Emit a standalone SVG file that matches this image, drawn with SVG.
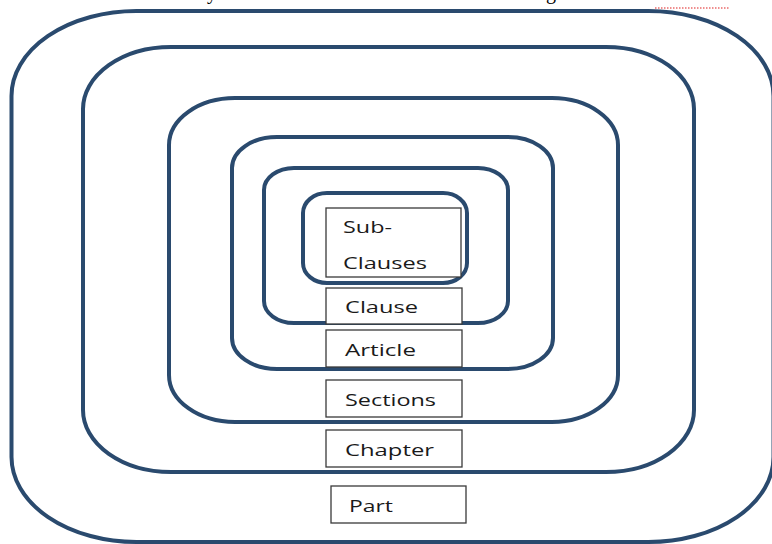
<svg xmlns="http://www.w3.org/2000/svg" width="772" height="544" viewBox="0 0 772 544">
<style>
.ring{fill:none;stroke:#2A4A6E;stroke-width:4}
.box{fill:#fff;stroke:#3a3a3a;stroke-width:1.3}
.lbl{font-family:"Open Sans","DejaVu Sans",sans-serif;font-size:17px;fill:#1a1a1a}
.frag{font-family:"Liberation Serif",serif;font-size:20px;fill:#000}
</style>
<rect width="772" height="544" fill="#fff"/>
<g id="top-fragments">
<text class="frag" x="207" y="-1">y</text>
<text class="frag" x="546" y="-1">g</text>
<line x1="655" y1="8" x2="730" y2="8" stroke="#e02020" stroke-width="1.2" stroke-dasharray="1.5,1.5"/>
</g>
<g id="ring-part"><rect class="ring" x="11.5" y="11" width="762" height="531" rx="125" ry="85"/></g>
<g id="ring-chapter"><rect class="ring" x="83" y="47" width="611" height="425" rx="88" ry="62"/></g>
<g id="ring-sections"><rect class="ring" x="169" y="98" width="449" height="324" rx="66" ry="47"/></g>
<g id="ring-article"><rect class="ring" x="232" y="137" width="321" height="232" rx="45" ry="31"/></g>
<g id="ring-clause"><rect class="ring" x="264" y="168" width="244" height="155" rx="30" ry="22"/></g>
<g id="ring-subclauses"><rect class="ring" x="303" y="193" width="164" height="90" rx="24" ry="20"/></g>
<g id="box-subclauses">
<rect class="box" x="326" y="208" width="135" height="69"/>
<text class="lbl" x="343" y="233" textLength="49" lengthAdjust="spacingAndGlyphs">Sub-</text>
<text class="lbl" x="343" y="269" textLength="84" lengthAdjust="spacingAndGlyphs">Clauses</text>
</g>
<g id="box-clause">
<rect class="box" x="326" y="288" width="136" height="36"/>
<text class="lbl" x="345" y="313" textLength="73" lengthAdjust="spacingAndGlyphs">Clause</text>
</g>
<g id="box-article">
<rect class="box" x="326" y="330" width="136" height="37"/>
<text class="lbl" x="345" y="356" textLength="71" lengthAdjust="spacingAndGlyphs">Article</text>
</g>
<g id="box-sections">
<rect class="box" x="326" y="380" width="136" height="37"/>
<text class="lbl" x="345" y="406" textLength="91" lengthAdjust="spacingAndGlyphs">Sections</text>
</g>
<g id="box-chapter">
<rect class="box" x="326" y="430" width="136" height="37"/>
<text class="lbl" x="345" y="456" textLength="89" lengthAdjust="spacingAndGlyphs">Chapter</text>
</g>
<g id="box-part">
<rect class="box" x="331" y="486" width="135" height="37"/>
<text class="lbl" x="349" y="512" textLength="44" lengthAdjust="spacingAndGlyphs">Part</text>
</g>
<g id="connectors"></g>
</svg>
